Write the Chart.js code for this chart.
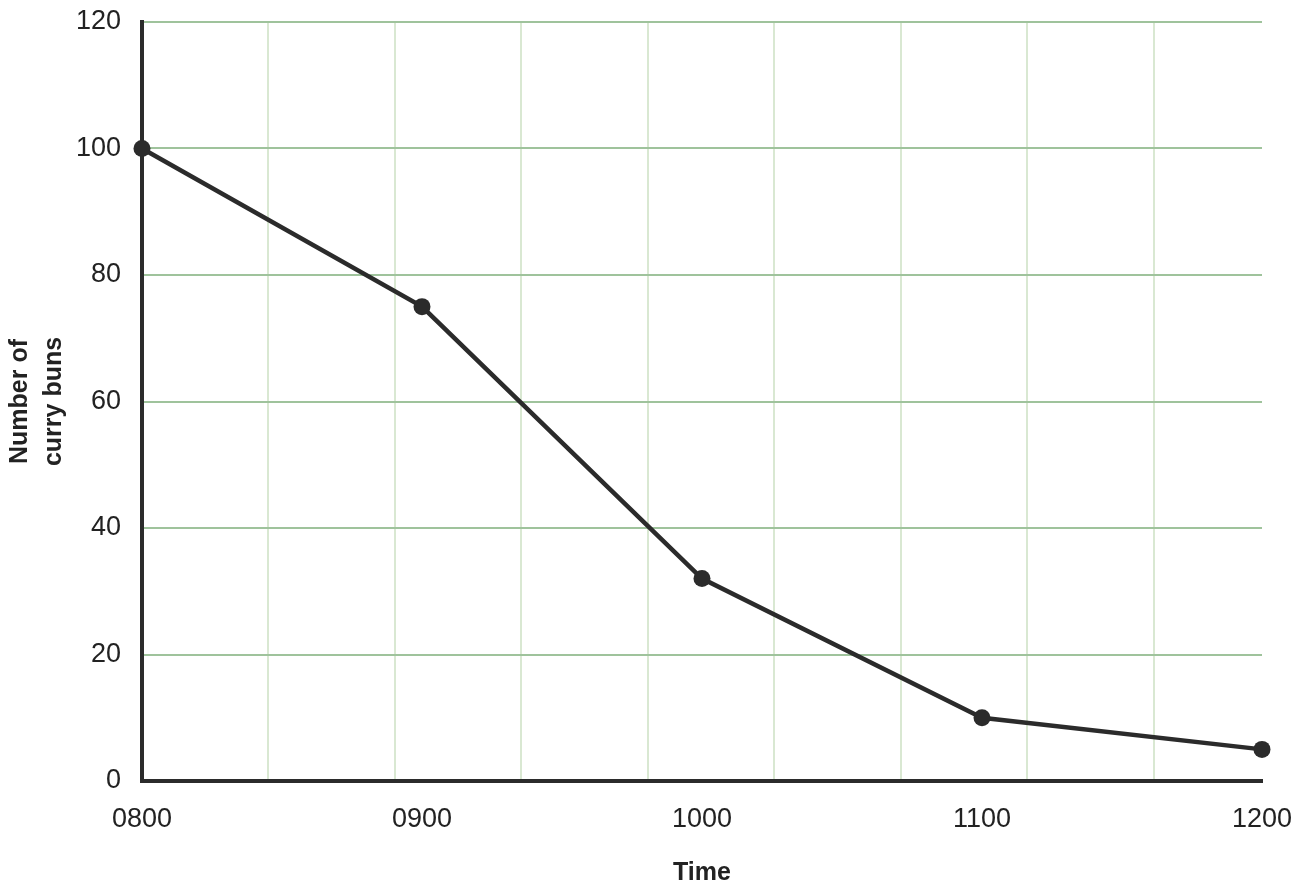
<!DOCTYPE html>
<html>
<head>
<meta charset="utf-8">
<script src="https://cdn.jsdelivr.net/npm/chart.js@4/dist/chart.umd.min.js"></script>
<style>
  html, body { margin: 0; padding: 0; background: #fff; }
  #wrap { width: 1302px; height: 892px; }
</style>
</head>
<body>
<div id="wrap"><canvas id="bunsChart"></canvas></div>
<script>
const times = ['0800', '0900', '1000', '1100', '1200'];
const buns = [100, 75, 32, 10, 5];
const yTicks = [0, 20, 40, 60, 80, 100, 120];

const ink = '#2b2b2b';
const fontFamily = '"Liberation Sans", Arial, sans-serif';

const ctx = document.getElementById('bunsChart').getContext('2d');

new Chart(ctx, {
    type: 'line',
    data: {
        labels: times,
        datasets: [{
            label: 'Number of curry buns',
            data: buns,
            borderColor: ink,
            backgroundColor: ink,
            borderWidth: 4.5,
            pointRadius: 8.5,
            pointHoverRadius: 8.5,
            pointBorderWidth: 0,
            tension: 0,
            fill: false,
            clip: false,
            xAxisID: 'x',
            yAxisID: 'y'
        }]
    },
    options: {
        responsive: true,
        maintainAspectRatio: false,
        animation: false,
        layout: {
            padding: { top: 22, right: 40, left: 0, bottom: 0 }
        },
        plugins: {
            legend: { display: false },
            tooltip: { enabled: false }
        },
        scales: {
            x: {
                type: 'category',
                position: 'bottom',
                offset: false,
                grid: { display: false, drawTicks: false },
                border: { display: true, color: ink, width: 4 },
                ticks: {
                    color: '#222',
                    padding: 22,
                    maxRotation: 0,
                    autoSkip: false,
                    font: { family: fontFamily, size: 27 }
                },
                title: {
                    display: true,
                    text: 'Time',
                    color: '#222',
                    padding: { top: 0, bottom: 4 },
                    font: { family: fontFamily, size: 25, weight: 'bold' }
                },
                afterFit: function (scale) {
                    scale.height = 111;
                    scale.paddingLeft = 0;
                    scale.paddingRight = 0;
                }
            },
            // square background grid, vertical lines only
            xGrid: {
                type: 'linear',
                position: 'top',
                min: 0,
                max: 8.854,
                grid: { color: '#d9e8d2', lineWidth: 2, drawTicks: false },
                border: { display: false },
                ticks: { display: false, stepSize: 1, includeBounds: false },
                afterFit: function (scale) {
                    scale.height = 0;
                    scale.paddingLeft = 0;
                    scale.paddingRight = 0;
                }
            },
            y: {
                min: 0,
                max: 120,
                afterBuildTicks: function (scale) {
                    scale.ticks = yTicks.map(v => ({ value: v }));
                },
                grid: { color: '#9fc39c', lineWidth: 2, drawTicks: false },
                border: { display: true, color: ink, width: 4 },
                ticks: {
                    color: '#222',
                    padding: 21,
                    font: { family: fontFamily, size: 27 }
                },
                title: {
                    display: true,
                    text: ['Number of', 'curry buns'],
                    color: '#222',
                    padding: { top: 3, bottom: 0 },
                    font: { family: fontFamily, size: 25, weight: 'bold', lineHeight: 1.35 }
                },
                afterFit: function (scale) {
                    scale.width = 142;
                    scale.paddingTop = 0;
                    scale.paddingBottom = 0;
                }
            }
        }
    }
});
</script>
</body>
</html>
